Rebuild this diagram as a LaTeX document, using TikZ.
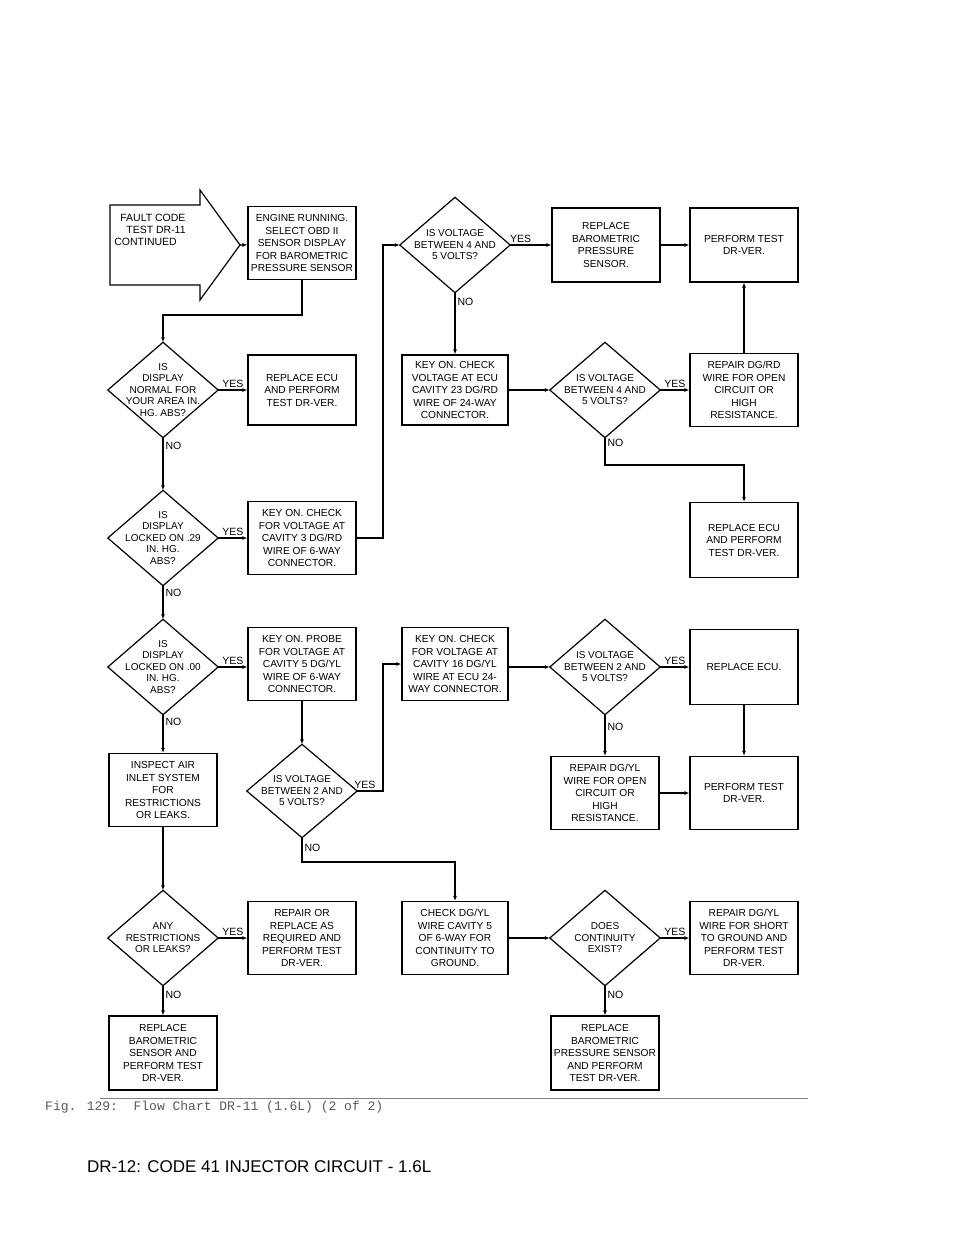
\documentclass[tikz,border=0pt]{standalone}
\usepackage{fontspec}
\setmainfont{Liberation Sans}
\newfontfamily\capfont{Liberation Mono}
\usetikzlibrary{arrows.meta}
\tikzset{
  box/.style={draw,line width=1.2pt,minimum width=108,minimum height=73,inner sep=1pt,
    align=center,font=\fontsize{10.2}{12.5}\selectfont},
  dia/.style={minimum width=110,minimum height=95,inner sep=0pt,align=center,
    font=\fontsize{10}{11.5}\selectfont},
  lbl/.style={font=\fontsize{10.5}{10.5}\selectfont,inner sep=2pt},
  flow/.style={line width=1.2pt,-{Latex[length=5pt,width=4pt]}}
}
\newcommand\diamondat[1]{\draw[line width=1.2pt] (#1.north)--(#1.east)--(#1.south)--(#1.west)--cycle;}
\begin{document}
\begin{tikzpicture}[x=1pt,y=-1pt]
\useasboundingbox (0,0) rectangle (960,1242);
% start arrow
\draw[line width=1.2pt] (110,205)--(200,205)--(200,190)--(240,245)--(200,300)--(200,285)--(110,285)--cycle;
\node[lbl,align=left,font=\fontsize{10.5}{12}\selectfont] (start) at (150,230) {\hspace*{6pt}FAULT CODE\\\hspace*{12pt}TEST DR-11\\CONTINUED};
\coordinate (tip) at (240,245);
% left column
\node[box] (run) at (302,243) {ENGINE RUNNING.\\SELECT OBD II\\SENSOR DISPLAY\\FOR BAROMETRIC\\PRESSURE SENSOR};
\node[dia] (normal) at (163,390) {IS\\DISPLAY\\NORMAL FOR\\YOUR AREA IN.\\HG. ABS?};
\diamondat{normal}
\node[box,minimum height=70] (ecua) at (302,390) {REPLACE ECU\\AND PERFORM\\TEST DR-VER.};
\node[dia] (lockA) at (163,538) {IS\\DISPLAY\\LOCKED ON .29\\IN. HG.\\ABS?};
\diamondat{lockA}
\node[box] (cavA) at (302,538) {KEY ON. CHECK\\FOR VOLTAGE AT\\CAVITY 3 DG/RD\\WIRE OF 6-WAY\\CONNECTOR.};
\node[dia] (lockB) at (163,667) {IS\\DISPLAY\\LOCKED ON .00\\IN. HG.\\ABS?};
\diamondat{lockB}
\node[box] (probe) at (302,664) {KEY ON. PROBE\\FOR VOLTAGE AT\\CAVITY 5 DG/YL\\WIRE OF 6-WAY\\CONNECTOR.};
\node[box] (inlet) at (163,790) {INSPECT AIR\\INLET SYSTEM\\FOR\\RESTRICTIONS\\OR LEAKS.};
\node[dia,minimum height=93] (voltC) at (302,791) {IS VOLTAGE\\BETWEEN 2 AND\\5 VOLTS?};
\diamondat{voltC}
\node[dia] (restr) at (163,938) {ANY\\RESTRICTIONS\\OR LEAKS?};
\diamondat{restr}
\node[box] (repair) at (302,938) {REPAIR OR\\REPLACE AS\\REQUIRED AND\\PERFORM TEST\\DR-VER.};
\node[box,minimum height=74] (baro) at (163,1053) {REPLACE\\BAROMETRIC\\SENSOR AND\\PERFORM TEST\\DR-VER.};
% right part
\node[dia] (voltA) at (455,245) {IS VOLTAGE\\BETWEEN 4 AND\\5 VOLTS?};
\diamondat{voltA}
\node[box,minimum height=74] (sensA) at (606,245) {REPLACE\\BAROMETRIC\\PRESSURE\\SENSOR.};
\node[box,minimum height=74] (testA) at (744,245) {PERFORM TEST\\DR-VER.};
\node[box,minimum width=106,minimum height=70] (cavB) at (455,390) {KEY ON. CHECK\\VOLTAGE AT ECU\\CAVITY 23 DG/RD\\WIRE OF 24-WAY\\CONNECTOR.};
\node[dia] (voltB) at (605,390) {IS VOLTAGE\\BETWEEN 4 AND\\5 VOLTS?};
\diamondat{voltB}
\node[box] (wireA) at (744,390) {REPAIR DG/RD\\WIRE FOR OPEN\\CIRCUIT OR\\HIGH\\RESISTANCE.};
\node[box,minimum height=75] (ecuB) at (744,540) {REPLACE ECU\\AND PERFORM\\TEST DR-VER.};
\node[box,minimum width=106] (cavC) at (455,664) {KEY ON. CHECK\\FOR VOLTAGE AT\\CAVITY 16 DG/YL\\WIRE AT ECU 24-\\WAY CONNECTOR.};
\node[dia] (voltD) at (605,667) {IS VOLTAGE\\BETWEEN 2 AND\\5 VOLTS?};
\diamondat{voltD}
\node[box,minimum height=75] (ecuC) at (744,667) {REPLACE ECU.};
\node[box] (wireB) at (605,793) {REPAIR DG/YL\\WIRE FOR OPEN\\CIRCUIT OR\\HIGH\\RESISTANCE.};
\node[box] (testB) at (744,793) {PERFORM TEST\\DR-VER.};
\node[box,minimum width=106] (cont) at (455,938) {CHECK DG/YL\\WIRE CAVITY 5\\OF 6-WAY FOR\\CONTINUITY TO\\GROUND.};
\node[dia] (exist) at (605,938) {DOES\\CONTINUITY\\EXIST?};
\diamondat{exist}
\node[box] (shrt) at (744,938) {REPAIR DG/YL\\WIRE FOR SHORT\\TO GROUND AND\\PERFORM TEST\\DR-VER.};
\node[box,minimum height=74] (sensB) at (605,1053) {REPLACE\\BAROMETRIC\\PRESSURE SENSOR\\AND PERFORM\\TEST DR-VER.};
% connectors
\draw[flow] (tip) -- (run);
\draw[flow] (run.south) |- (163,315) -- (normal.north);
\draw[flow] (normal.east) -- node[lbl,above] {YES} (ecua.west);
\draw[flow] (normal.south) -- node[lbl,right,pos=0.15] {NO} (lockA.north);
\draw[flow] (lockA.east) -- node[lbl,above] {YES} (cavA.west);
\draw[flow] (lockA.south) -- node[lbl,right,pos=0.2] {NO} (lockB.north);
\draw[flow] (cavA.east) -- (383,538) |- (voltA.west);
\draw[flow] (voltA.east) -- node[lbl,above,pos=0.25] {YES} (sensA.west);
\draw[flow] (voltA.south) -- node[lbl,right,pos=0.15] {NO} (cavB.north);
\draw[flow] (sensA.east) -- (testA.west);
\draw[flow] (cavB.east) -- (voltB.west);
\draw[flow] (voltB.east) -- node[lbl,above] {YES} (wireA.west);
\draw[flow] (wireA.north) -- (testA.south);
\draw[flow] (voltB.south) -- node[lbl,right,pos=0.2] {NO} (605,465) -| (ecuB.north);
\draw[flow] (lockB.east) -- node[lbl,above] {YES} (probe.west |- lockB.east);
\draw[flow] (lockB.south) -- node[lbl,right,pos=0.2] {NO} (inlet.north);
\draw[flow] (probe.south) -- (voltC.north);
\draw[flow] (voltC.east) -- node[lbl,above,pos=0.3] {YES} (383,791) |- (cavC.west);
\draw[flow] (voltC.south) -- node[lbl,right,pos=0.4] {NO} (302,862) -| (cont.north);
\draw[flow] (inlet.south) -- (restr.north);
\draw[flow] (restr.east) -- node[lbl,above] {YES} (repair.west);
\draw[flow] (restr.south) -- node[lbl,right,pos=0.3] {NO} (baro.north);
\draw[flow] (cavC.east |- voltD.west) -- (voltD.west);
\draw[flow] (voltD.east) -- node[lbl,above] {YES} (ecuC.west);
\draw[flow] (voltD.south) -- node[lbl,right,pos=0.3] {NO} (wireB.north);
\draw[flow] (ecuC.south) -- (testB.north);
\draw[flow] (wireB.east) -- (testB.west);
\draw[flow] (cont.east) -- (exist.west);
\draw[flow] (exist.east) -- node[lbl,above] {YES} (shrt.west);
\draw[flow] (exist.south) -- node[lbl,right,pos=0.3] {NO} (sensB.north);
% caption
\draw[gray,line width=0.6pt] (100,1098) -- (808,1098);
\node[anchor=west,text=gray!70!black,font=\capfont\fontsize{13}{13}\selectfont,inner sep=0] (cap) at (45,1107) {Fig. 129:\ \ Flow Chart DR-11 (1.6L) (2 of 2)};
\node[anchor=west,font=\fontsize{17}{17}\selectfont,inner sep=0] (head) at (87,1167) {DR-12: CODE 41 INJECTOR CIRCUIT - 1.6L};
\end{tikzpicture}
\end{document}
